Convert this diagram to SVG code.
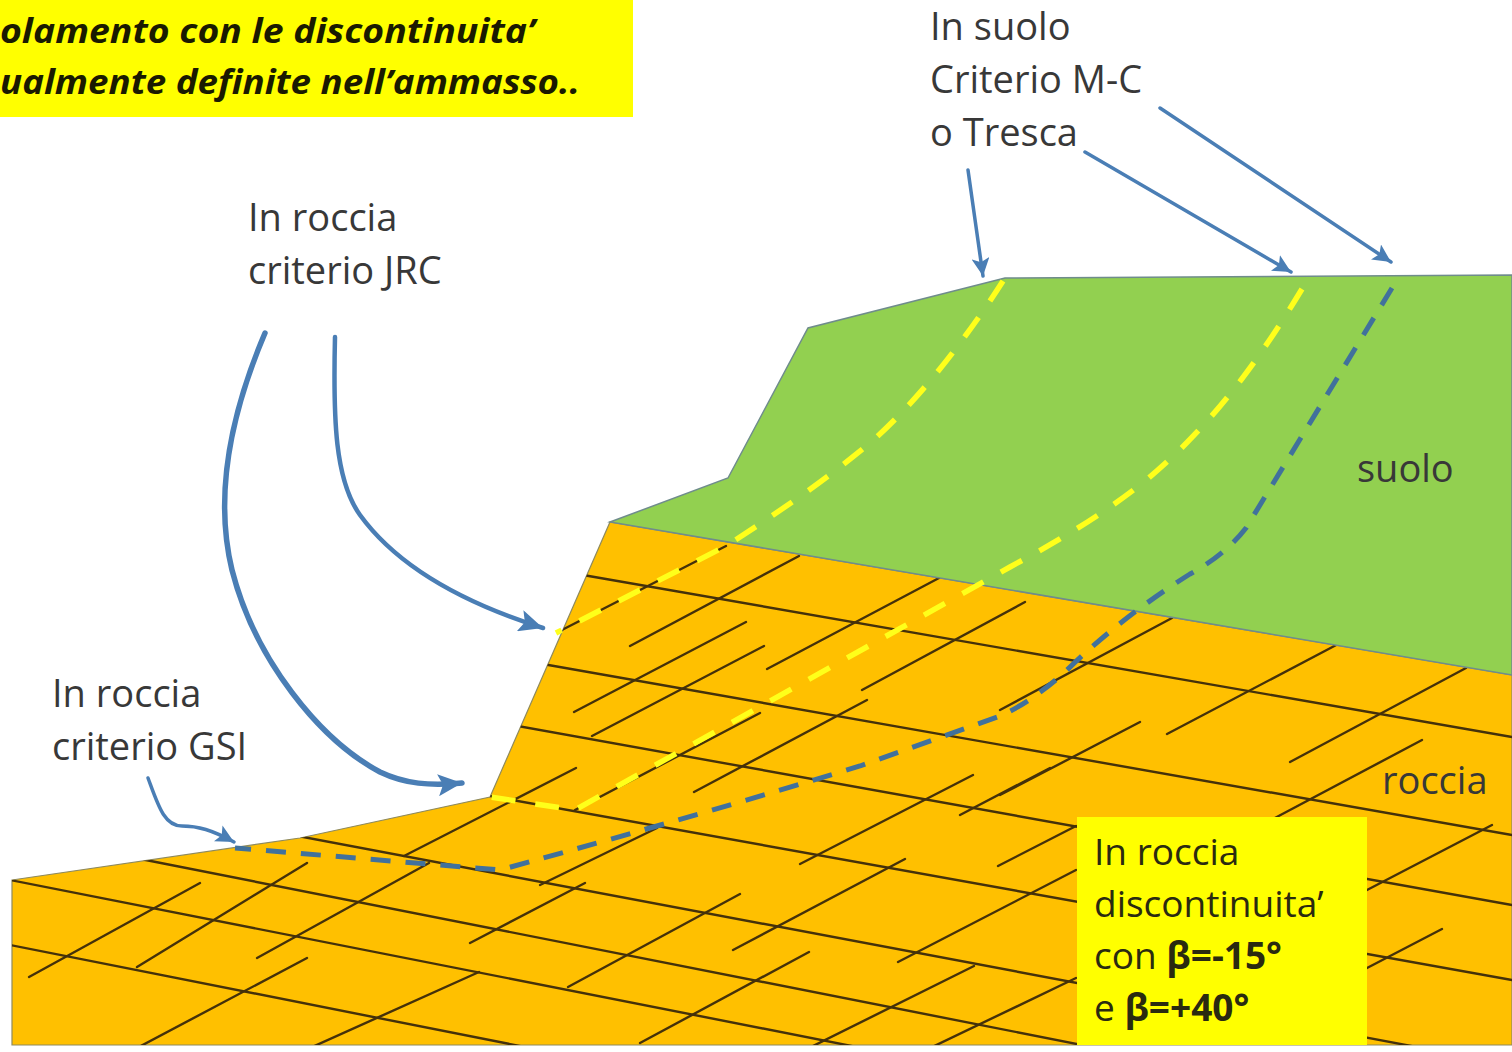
<svg xmlns="http://www.w3.org/2000/svg" width="1512" height="1052" viewBox="0 0 1512 1052">
  <defs>
    <style>
      .lbl { font-family: "Open Sans", "Liberation Sans", sans-serif; font-size: 38px; fill: #383838; }
      .box-txt { font-family: "Open Sans", "Liberation Sans", sans-serif; font-size: 37px; fill: #2a2a10; }
      .title { font-family: "Open Sans", "Liberation Sans", sans-serif; font-size: 34px; font-weight: bold; font-style: italic; fill: #1a1a00; }
      .joint { stroke: #45310a; stroke-width: 2.4; fill: none; stroke-linecap: round; }
      .slip-y { stroke: #FFFF1A; stroke-width: 5.5; fill: none; stroke-dasharray: 24 20; }
      .slip-b { stroke: #41719C; stroke-width: 5; fill: none; stroke-dasharray: 20 15; }
      .ptr { stroke: #4A7EB5; fill: none; stroke-linecap: round; }
    </style>
    <marker id="headL" markerUnits="userSpaceOnUse" markerWidth="26" markerHeight="22" refX="24" refY="11" orient="auto">
      <path d="M0,0 L24,11 L0,22 L5,11 Z" fill="#4A7EB5"/>
    </marker>
    <marker id="headS" markerUnits="userSpaceOnUse" markerWidth="20" markerHeight="18" refX="18" refY="9" orient="auto">
      <path d="M0,0 L18,9 L0,18 L4,9 Z" fill="#4A7EB5"/>
    </marker>
    <clipPath id="rockClip">
      <polygon points="12,880 300,838 490,797 610,522 1512,675 1512,1045 12,1045"/>
    </clipPath>
  </defs>

  <rect width="1512" height="1052" fill="#ffffff"/>

  <!-- rock mass -->
  <g id="rock">
    <polygon points="12,880 300,838 490,797 610,522 1512,675 1512,1045 12,1045" fill="#FFC000" stroke="#8f8a5c" stroke-width="1.2"/>
    <!-- discontinuity sets, clipped to the rock body -->
    <g clip-path="url(#rockClip)" class="joint">
      <!-- set dipping at -15 deg -->
      <line x1="560" y1="571" x2="1512" y2="737"/>
      <line x1="520" y1="660" x2="1512" y2="835"/>
      <line x1="490" y1="721" x2="1512" y2="905"/>
      <line x1="440" y1="787" x2="1512" y2="980"/>
      <line x1="250" y1="827" x2="1512" y2="1065"/>
      <line x1="100" y1="851" x2="1512" y2="1130"/>
      <line x1="0" y1="878" x2="1100" y2="1095"/>
      <line x1="0" y1="943" x2="560" y2="1054"/>
      <!-- set dipping at +40 deg -->
      <line x1="556" y1="633" x2="726" y2="546"/>
      <line x1="630" y1="646" x2="799" y2="556"/>
      <line x1="574" y1="712" x2="746" y2="622"/>
      <line x1="592" y1="736" x2="764" y2="646"/>
      <line x1="767" y1="669" x2="939" y2="578"/>
      <line x1="694" y1="792" x2="867" y2="700"/>
      <line x1="404" y1="856" x2="576" y2="768"/>
      <line x1="575" y1="810" x2="760" y2="713"/>
      <line x1="862" y1="690" x2="1025" y2="602"/>
      <line x1="1000" y1="710" x2="1172" y2="618"/>
      <line x1="1167" y1="734" x2="1340" y2="643"/>
      <line x1="1290" y1="762" x2="1466" y2="668"/>
      <line x1="800" y1="864" x2="973" y2="775"/>
      <line x1="960" y1="815" x2="1050" y2="768"/>
      <line x1="1000" y1="795" x2="1140" y2="722"/>
      <line x1="1273" y1="819" x2="1422" y2="740"/>
      <line x1="1367" y1="890" x2="1492" y2="825"/>
      <line x1="1367" y1="968" x2="1442" y2="929"/>
      <line x1="998" y1="866" x2="1076" y2="826"/>
      <line x1="733" y1="950" x2="905" y2="859"/>
      <line x1="568" y1="987" x2="740" y2="894"/>
      <line x1="898" y1="962" x2="1076" y2="870"/>
      <line x1="640" y1="1043" x2="809" y2="952"/>
      <line x1="926" y1="1050" x2="1076" y2="978"/>
      <line x1="805" y1="1050" x2="974" y2="966"/>
      <line x1="540" y1="885" x2="657" y2="828"/>
      <line x1="470" y1="943" x2="585" y2="883"/>
      <line x1="29" y1="977" x2="200" y2="883"/>
      <line x1="137" y1="967" x2="307" y2="863"/>
      <line x1="257" y1="958" x2="429" y2="863"/>
      <line x1="137" y1="1048" x2="307" y2="958"/>
      <line x1="310" y1="1048" x2="479" y2="972"/>
    </g>
  </g>

  <!-- soil cover -->
  <g id="soil">
    <polygon points="610,522 728,478 808,328 1005,278 1512,275 1512,675" fill="#92D050" stroke="#6f8c8c" stroke-width="1.5"/>
  </g>

  <!-- slip surfaces -->
  <g id="slip-surfaces">
    <path class="slip-y" d="M1003,281 C975,325 925,395 870,443 C830,476 790,505 726,546 L556,633"/>
    <path class="slip-y" d="M1302,289 C1265,350 1215,425 1140,485 C1100,516 1060,540 1010,567 L575,810 L490,797"/>
    <path class="slip-b" d="M1392,288 L1246,528 Q1225,555 1190,574 Q1120,618 1065,672 Q1030,703 1000,716 L860,766 Q700,815 500,870 L235,848"/>
  </g>

  <!-- connectors -->
  <g id="connectors">
    <path class="ptr" stroke-width="5.5" marker-end="url(#headL)" d="M265,333 C228,420 215,500 232,570 C255,660 320,740 380,772 C405,784 430,786 462,783"/>
    <path class="ptr" stroke-width="4.5" marker-end="url(#headL)" d="M335,337 C333,420 335,480 360,515 C400,570 470,605 543,628"/>
    <path class="ptr" stroke-width="3.5" marker-end="url(#headS)" d="M148,778 C158,805 164,826 182,826 C198,826 212,830 234,842"/>
    <line class="ptr" stroke-width="3.5" marker-end="url(#headS)" x1="968" y1="170" x2="983" y2="276"/>
    <line class="ptr" stroke-width="3.5" marker-end="url(#headS)" x1="1085" y1="152" x2="1291" y2="272"/>
    <line class="ptr" stroke-width="3.5" marker-end="url(#headS)" x1="1160" y1="108" x2="1391" y2="262"/>
  </g>

  <!-- heading strip -->
  <g id="heading">
    <rect x="0" y="0" width="633" height="117" fill="#FFFF00"/>
    <text class="title" x="0" y="43" textLength="535" lengthAdjust="spacingAndGlyphs">olamento con le discontinuita’</text>
    <text class="title" x="0" y="94" textLength="580" lengthAdjust="spacingAndGlyphs">ualmente definite nell’ammasso..</text>
  </g>

  <g id="label-suolo-top">
    <text class="lbl" x="930" y="40">In suolo</text>
    <text class="lbl" x="930" y="93">Criterio M-C</text>
    <text class="lbl" x="930" y="146">o Tresca</text>
  </g>

  <g id="label-jrc">
    <text class="lbl" x="248" y="231">In roccia</text>
    <text class="lbl" x="248" y="284">criterio JRC</text>
  </g>

  <g id="label-gsi">
    <text class="lbl" x="52" y="707">In roccia</text>
    <text class="lbl" x="52" y="760">criterio GSI</text>
  </g>

  <g id="label-suolo">
    <text class="lbl" x="1357" y="482">suolo</text>
  </g>

  <g id="label-roccia">
    <text class="lbl" x="1382" y="794">roccia</text>
  </g>

  <g id="box-discontinuita">
    <rect x="1077" y="817" width="290" height="228" fill="#FFFF00"/>
    <text class="box-txt" x="1094" y="865">In roccia</text>
    <text class="box-txt" x="1094" y="917">discontinuita’</text>
    <text class="box-txt" x="1094" y="969">con <tspan font-weight="bold">β=-15°</tspan></text>
    <text class="box-txt" x="1094" y="1021">e <tspan font-weight="bold">β=+40°</tspan></text>
  </g>
</svg>
